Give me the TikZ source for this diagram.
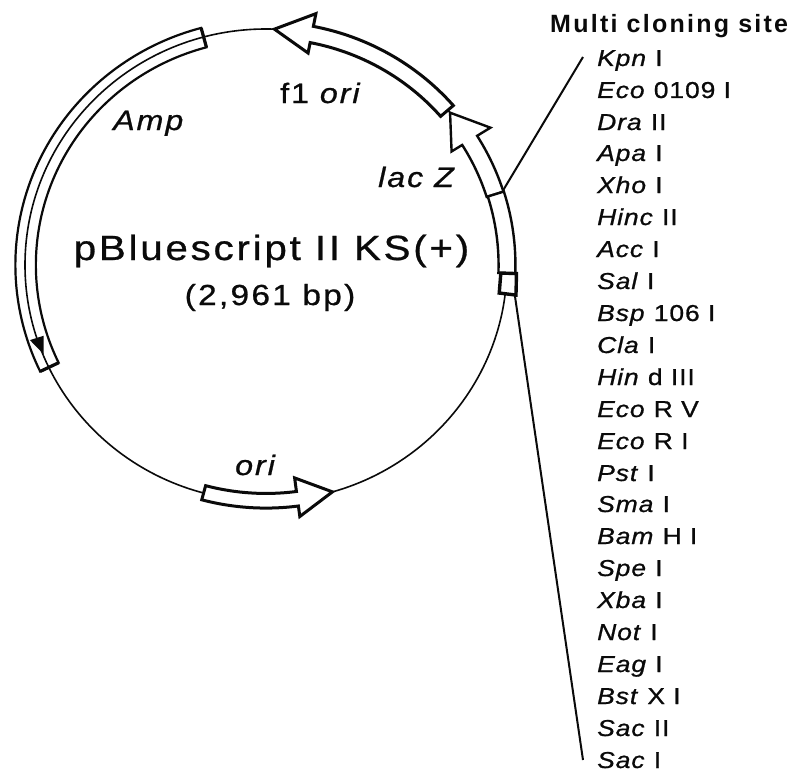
\documentclass[tikz,border=0pt]{standalone}
\usepackage{fontspec,xcolor}
\setmainfont{Liberation Sans}
\definecolor{ink}{HTML}{0A0A0A}
\newcommand{\gross}{\fontsize{35}{40}\selectfont}
\newcommand{\mittel}{\fontsize{29}{34}\selectfont}
\newcommand{\lbl}{\fontsize{28}{34}\selectfont}
\newcommand{\micro}{\fontsize{23}{27}\selectfont}
\newcommand{\titel}{\fontsize{25}{30}\selectfont}
\newcommand{\ls}[1]{\addfontfeatures{LetterSpace=#1,FakeStretch=1.15,FakeBold=0.8}}
\tikzset{ring/.style={ink,line width=1.6pt},
  band/.style={ink,fill=white,line width=3pt,line join=miter},
  ampband/.style={ink,line width=2.2pt},
  anschluss/.style={ink,line width=2pt},
  enzym/.style={inner sep=0,anchor=base west,text=ink,font=\micro\ls{4}},
  merkmal/.style={inner sep=0,anchor=base west,text=ink,font=\lbl\ls{7}}}
\begin{document}
\begin{tikzpicture}[x=1pt,y=-1pt]
\useasboundingbox (0,0) rectangle (794,773);
\fill[white] (0,0) rectangle (794,773);
\begin{scope}[shift={(266,265)},x=241pt,y=236pt]
\draw[ring] (0,0) circle[radius=1];
% Amp
\draw[ampband] (105:1.04) arc[start angle=105,end angle=205.7,radius=1.04] -- (205.7:.955) arc[start angle=205.7,end angle=105,radius=.955] -- cycle;
\draw[ink,line width=3.2pt] (105:1.04) -- (105:.955) (205.7:1.04) -- (205.7:.955);
\fill[ink] (198:1.03) -- (202.3:.997) -- (198:.97) -- cycle;
% f1 ori
\draw[band] (41:1.03) arc[start angle=41,end angle=79,radius=1.03] -- (79:1.085) -- (88:1) -- (79:.915) -- (79:.96) arc[start angle=79,end angle=41,radius=.96] -- cycle;
% lac Z
\draw[band,line width=2.4pt] (17.5:1.033) arc[start angle=17.5,end angle=32,radius=1.033] -- (32:1.098) -- (40.2:1) -- (32:.908) -- (32:.96) arc[start angle=32,end angle=17.5,radius=.96] -- cycle;
% MCS
\draw[band,line width=2.4pt] (-2:1.035) arc[start angle=-2,end angle=17.5,radius=1.035] -- (17.5:.965) arc[start angle=17.5,end angle=-2,radius=.965] -- cycle;
\draw[band,line width=3.4pt] (-7:1.045) -- (-2:1.04) -- (-2:.975) -- (-7:.975) -- cycle;
% ori
\draw[band] (255:1.03) arc[start angle=255,end angle=277.5,radius=1.03] -- (277.5:1.075) -- (286:1) -- (277.5:.91) -- (277.5:.968) arc[start angle=277.5,end angle=255,radius=.968] -- cycle;
\coordinate (lacoben) at (17.9:1.035);
\coordinate (mcsunten) at (-7:1.04);
\end{scope}
\coordinate (kpnende) at (583,57);
\coordinate (sacende) at (583,760);
\draw[anschluss] (lacoben) -- (kpnende);
\draw[anschluss] (mcsunten) -- (sacende);
% labels
\node[inner sep=0,anchor=base,text=ink,font=\gross\ls{8}] (name) at (271.5,260) {pBluescript II KS(+)};
\node[inner sep=0,anchor=base,text=ink,font=\mittel\ls{8}] (groesse) at (270,305) {(2,961 bp)};
\node[merkmal] (amp) at (113,130) {\textit{Amp}};
\node[merkmal] (fori) at (280,103) {f1 \textit{ori}};
\node[merkmal] (lacz) at (378,187) {\textit{lac Z}};
\node[merkmal] (ori) at (235,475) {\textit{ori}};
\node[inner sep=0,anchor=base west,text=ink,font=\titel\bfseries\addfontfeatures{LetterSpace=9}] (mcs) at (550,33) {Multi cloning site};
\node[enzym] (kpn) at (597,66) {\textit{Kpn} I};
\node[enzym] (eco) at (597,98) {\textit{Eco} 0109 I};
\node[enzym] (dra) at (597,130) {\textit{Dra} II};
\node[enzym] (apa) at (597,161) {\textit{Apa} I};
\node[enzym] (xho) at (597,193) {\textit{Xho} I};
\node[enzym] (hinc) at (597,225) {\textit{Hinc} II};
\node[enzym] (acc) at (597,257) {\textit{Acc} I};
\node[enzym] (sal) at (597,289) {\textit{Sal} I};
\node[enzym] (bsp) at (597,321) {\textit{Bsp} 106 I};
\node[enzym] (cla) at (597,353) {\textit{Cla} I};
\node[enzym] (hind) at (597,385) {\textit{Hin} d III};
\node[enzym] (ecorv) at (597,417) {\textit{Eco} R V};
\node[enzym] (ecori) at (597,449) {\textit{Eco} R I};
\node[enzym] (pst) at (597,481) {\textit{Pst} I};
\node[enzym] (sma) at (597,512) {\textit{Sma} I};
\node[enzym] (bam) at (597,544) {\textit{Bam} H I};
\node[enzym] (spe) at (597,576) {\textit{Spe} I};
\node[enzym] (xba) at (597,608) {\textit{Xba} I};
\node[enzym] (not) at (597,640) {\textit{Not} I};
\node[enzym] (eag) at (597,672) {\textit{Eag} I};
\node[enzym] (bst) at (597,704) {\textit{Bst} X I};
\node[enzym] (sacii) at (597,736) {\textit{Sac} II};
\node[enzym] (saci) at (597,768) {\textit{Sac} I};
\end{tikzpicture}
\end{document}
